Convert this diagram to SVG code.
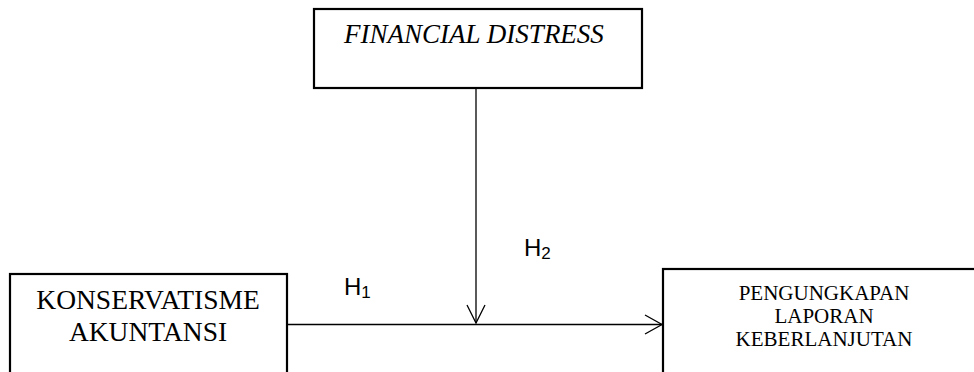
<svg xmlns="http://www.w3.org/2000/svg" width="974" height="372" viewBox="0 0 974 372">
<style>
.box{fill:#fff;stroke:#000;stroke-width:2.2}
.t{font-family:"Liberation Serif","Times New Roman",serif;fill:#000;text-anchor:middle}
.h{font-family:"Liberation Sans",Arial,sans-serif;fill:#000;font-size:24px}
.c{fill:none;stroke:#000;stroke-width:1.3}
</style>
<rect width="974" height="372" fill="#fff"/>
<g id="financial-distress">
<rect class="box" x="314" y="9" width="328" height="79"/>
<text class="t" x="474" y="43" font-size="27" font-style="italic">FINANCIAL DISTRESS</text>
</g>
<g id="konservatisme">
<rect class="box" x="10" y="274" width="277" height="110"/>
<text class="t" x="148" y="309" font-size="27.5">KONSERVATISME</text>
<text class="t" x="148" y="341" font-size="27.5">AKUNTANSI</text>
</g>
<g id="pengungkapan">
<rect class="box" x="663" y="269" width="330" height="120"/>
<text class="t" x="824" y="300" font-size="21">PENGUNGKAPAN</text>
<text class="t" x="824" y="323" font-size="21">LAPORAN</text>
<text class="t" x="824" y="346" font-size="21">KEBERLANJUTAN</text>
</g>
<g id="connectors">
<line class="c" x1="287" y1="324.5" x2="662" y2="324.5"/>
<polyline class="c" points="645,315 662,324.5 645,334"/>
<line class="c" x1="476" y1="88" x2="476" y2="323"/>
<polyline class="c" points="467,305 476,323 485,305"/>
</g>
<g id="labels">
<text class="h" x="344" y="295">H<tspan font-size="17" dy="3">1</tspan></text>
<text class="h" x="524" y="256">H<tspan font-size="17" dy="3">2</tspan></text>
</g>
</svg>
